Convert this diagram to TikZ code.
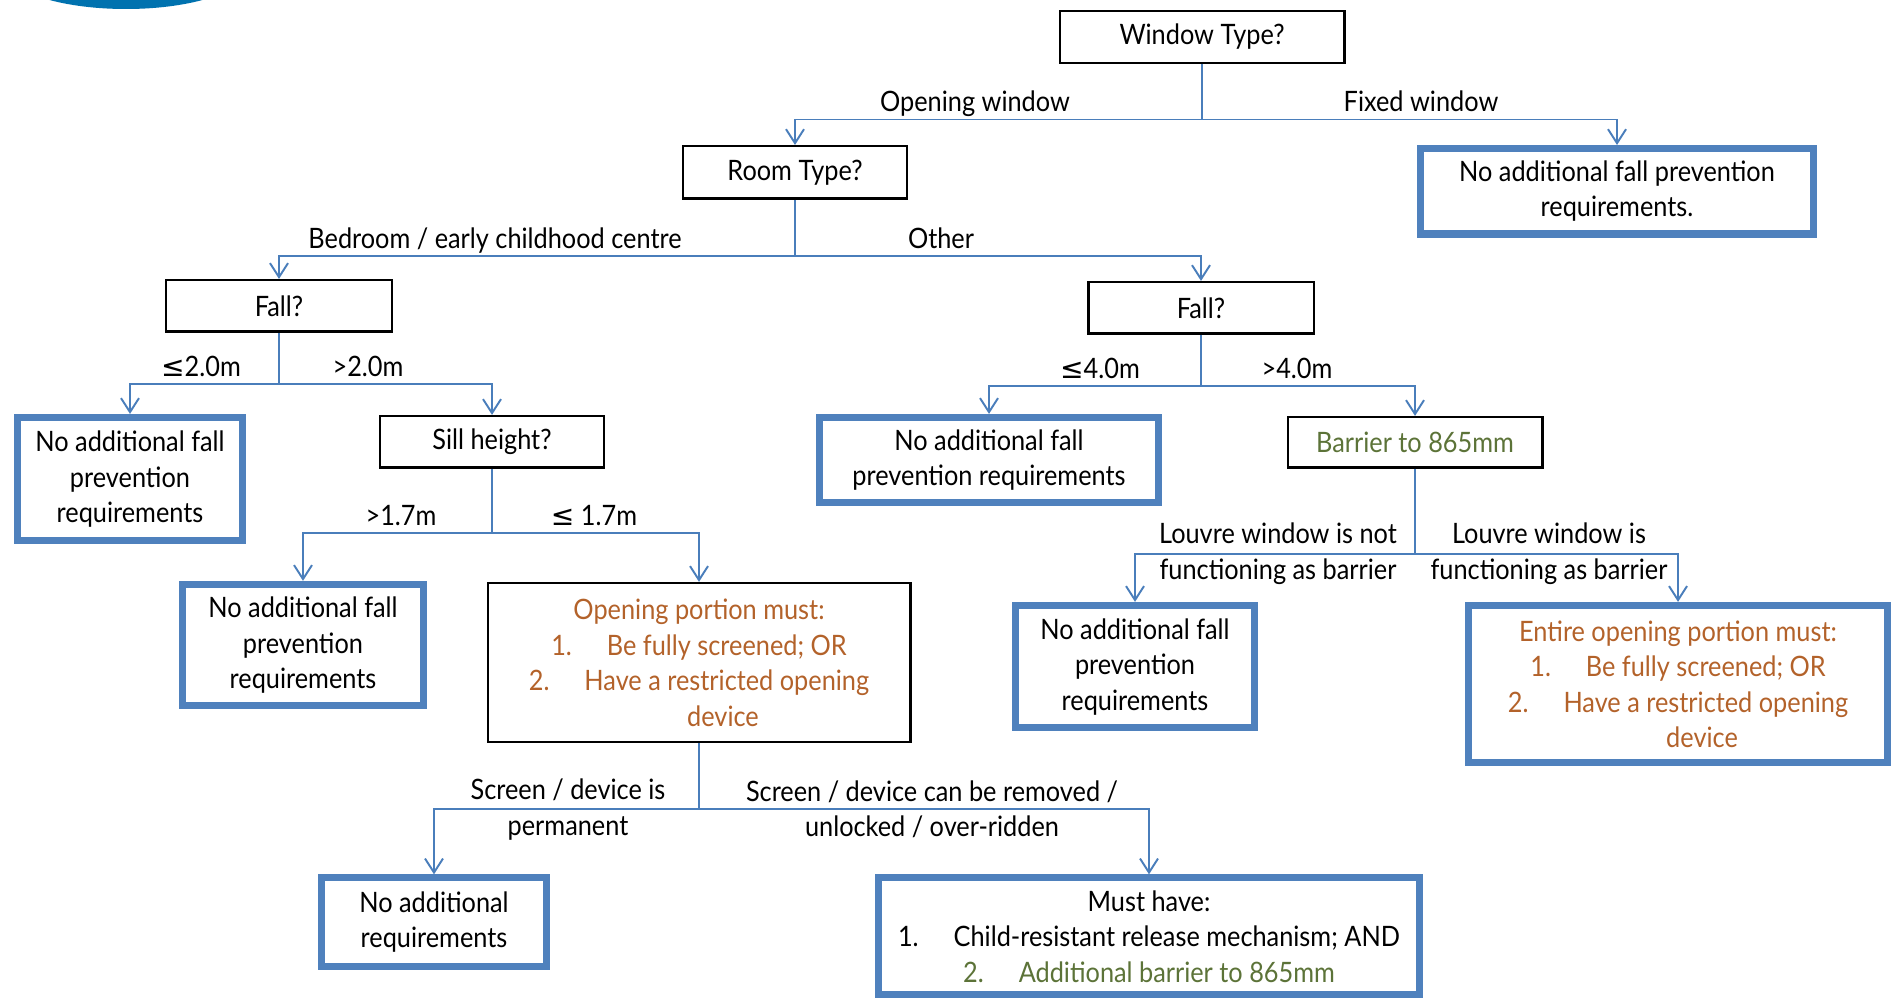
\documentclass[tikz,border=0pt]{standalone}
\usepackage{fontspec}
\setmainfont[FakeStretch=0.9]{Lato}
\newfontfamily\symfont{DejaVu Sans}
\usepackage{tikz}
\usetikzlibrary{arrows.meta, positioning}
\definecolor{linkblue}{HTML}{4A7EBB}
\definecolor{resblue}{HTML}{4F81BD}
\definecolor{notebrown}{HTML}{B3622A}
\definecolor{noteolive}{HTML}{5C7338}
\definecolor{logoblue}{HTML}{0072AF}
\newcommand{\leqmark}{{\symfont ≤}}

\begin{document}
\begin{tikzpicture}[
    font=\fontsize{8}{10.1}\selectfont,
    qbox/.style={draw=black, line width=0.7pt, rectangle, align=center, inner sep=2pt},
    resbox/.style={draw=resblue, line width=2pt, rectangle, align=center, inner sep=2pt},
    lbl/.style={inner sep=0pt, text depth=2pt},
    lbltwo/.style={inner sep=0pt, align=center},
    arrow/.style={-{Straight Barb[length=1.4mm, width=1.8mm]}, linkblue, line width=0.55pt}
]
\useasboundingbox (0,0) rectangle (18.92,-10.02);
\begin{scope}
\clip (0,0) rectangle (18.92,-10.02);
\fill[logoblue] (1.26,0.31) ellipse (1.21 and 0.40);
\end{scope}

\node[qbox, minimum width=2.845cm, minimum height=0.515cm] (window) at (12.02,-0.37) {Window Type?};
\node[qbox, minimum width=2.245cm, minimum height=0.525cm, below=0.81cm of window, xshift=-4.07cm] (room) {Room Type?};
\node[resbox, minimum width=3.925cm, minimum height=0.855cm, below=0.81cm of window, xshift=4.15cm] (fixedres) {No additional fall prevention\\requirements.};
\coordinate[below=0.555cm of window.south] (wsplit);
\draw[arrow] (window) -- (wsplit) -| (room);
\draw[arrow] (wsplit) -| (fixedres);
\node[lbl, above=0pt of wsplit, xshift=-2.27cm] (lopen) {Opening window};
\node[lbl, above=0pt of wsplit, xshift=2.19cm] (lfixed) {Fixed window};

\node[qbox, minimum width=2.265cm, minimum height=0.515cm, below=0.79cm of room, xshift=-5.16cm] (fallL) {Fall?};
\node[qbox, minimum width=2.255cm, minimum height=0.515cm, below=0.81cm of room, xshift=4.06cm] (fallR) {Fall?};
\coordinate[below=0.56cm of room.south] (rsplit);
\draw[arrow] (room) -- (rsplit) -| (fallL);
\draw[arrow] (rsplit) -| (fallR);
\node[lbl, above=0pt of rsplit, xshift=-3.00cm] (lbed) {Bedroom / early childhood centre};
\node[lbl, above=0pt of rsplit, xshift=1.46cm] (lother) {Other};

\node[resbox, minimum width=2.255cm, minimum height=1.235cm, below=0.81cm of fallL, xshift=-1.49cm] (resLa) {No additional fall\\prevention\\requirements};
\node[qbox, minimum width=2.245cm, minimum height=0.515cm, below=0.82cm of fallL, xshift=2.13cm] (sill) {Sill height?};
\coordinate[below=0.51cm of fallL.south] (fLsplit);
\draw[arrow] (fallL) -- (fLsplit) -| (resLa);
\draw[arrow] (fLsplit) -| (sill);
\node[lbl, above=0pt of fLsplit, xshift=-0.78cm] (llow) {\leqmark2.0m};
\node[lbl, above=0pt of fLsplit, xshift=0.89cm] (lhigh) {>2.0m};

\node[resbox, minimum width=2.415cm, minimum height=1.215cm, below=1.12cm of sill, xshift=-1.89cm] (resLb) {No additional fall\\prevention\\requirements};
\node[qbox, text=notebrown, minimum width=4.225cm, minimum height=1.59cm, below=1.13cm of sill, xshift=2.07cm] (opening) {Opening portion must:\\1.\hspace{0.35cm}Be fully screened; OR\\2.\hspace{0.35cm}Have a restricted opening\\\hspace*{0.48cm}device};
\coordinate[below=0.64cm of sill.south] (ssplit);
\draw[arrow] (sill) -- (ssplit) -| (resLb);
\draw[arrow] (ssplit) -| (opening);
\node[lbl, above=0pt of ssplit, xshift=-0.91cm] (lsillhigh) {>1.7m};
\node[lbl, above=0pt of ssplit, xshift=1.02cm] (lsilllow) {\leqmark\ 1.7m};

\node[resbox, minimum width=2.255cm, minimum height=0.885cm, below=1.31cm of opening, xshift=-2.65cm] (resBa) {No additional\\requirements};
\node[resbox, minimum width=5.405cm, minimum height=1.17cm, below=1.31cm of opening, xshift=4.50cm] (musthave) {Must have:\\1.\hspace{0.35cm}Child-resistant release mechanism; AND\\\textcolor{noteolive}{2.\hspace{0.35cm}Additional barrier to 865mm}};
\coordinate[below=0.66cm of opening.south] (osplit);
\draw[arrow] (opening) -- (osplit) -| (resBa);
\draw[arrow] (osplit) -| (musthave);
\node[lbltwo, xshift=-1.31cm] (lperm) at (osplit) {Screen / device is\\permanent};
\node[lbltwo, xshift=2.33cm] (lremov) at (osplit) {Screen / device can be removed /\\unlocked / over-ridden};

\node[resbox, minimum width=3.385cm, minimum height=0.855cm, below=0.79cm of fallR, xshift=-2.12cm] (resRa) {No additional fall\\prevention requirements};
\node[qbox, text=noteolive, minimum width=2.545cm, minimum height=0.505cm, below=0.81cm of fallR, xshift=2.14cm] (barrier) {Barrier to 865mm};
\coordinate[below=0.51cm of fallR.south] (fRsplit);
\draw[arrow] (fallR) -- (fRsplit) -| (resRa);
\draw[arrow] (fRsplit) -| (barrier);
\node[lbl, above=0pt of fRsplit, xshift=-1.01cm] (lfour) {\leqmark4.0m};
\node[lbl, above=0pt of fRsplit, xshift=0.96cm] (lfourhigh) {>4.0m};

\node[resbox, minimum width=2.395cm, minimum height=1.225cm, below=1.33cm of barrier, xshift=-2.80cm] (resRb) {No additional fall\\prevention\\requirements};
\node[resbox, text=notebrown, minimum width=4.195cm, minimum height=1.575cm, below=1.33cm of barrier, xshift=2.63cm] (entire) {Entire opening portion must:\\1.\hspace{0.35cm}Be fully screened; OR\\2.\hspace{0.35cm}Have a restricted opening\\\hspace*{0.48cm}device};
\coordinate[below=0.85cm of barrier.south] (bsplit);
\draw[arrow] (barrier) -- (bsplit) -| (resRb);
\draw[arrow] (bsplit) -| (entire);
\node[lbltwo, xshift=-1.37cm] (lnotbar) at (bsplit) {Louvre window is not\\functioning as barrier};
\node[lbltwo, xshift=1.34cm] (lisbar) at (bsplit) {Louvre window is\\functioning as barrier};
\end{tikzpicture}
\end{document}
